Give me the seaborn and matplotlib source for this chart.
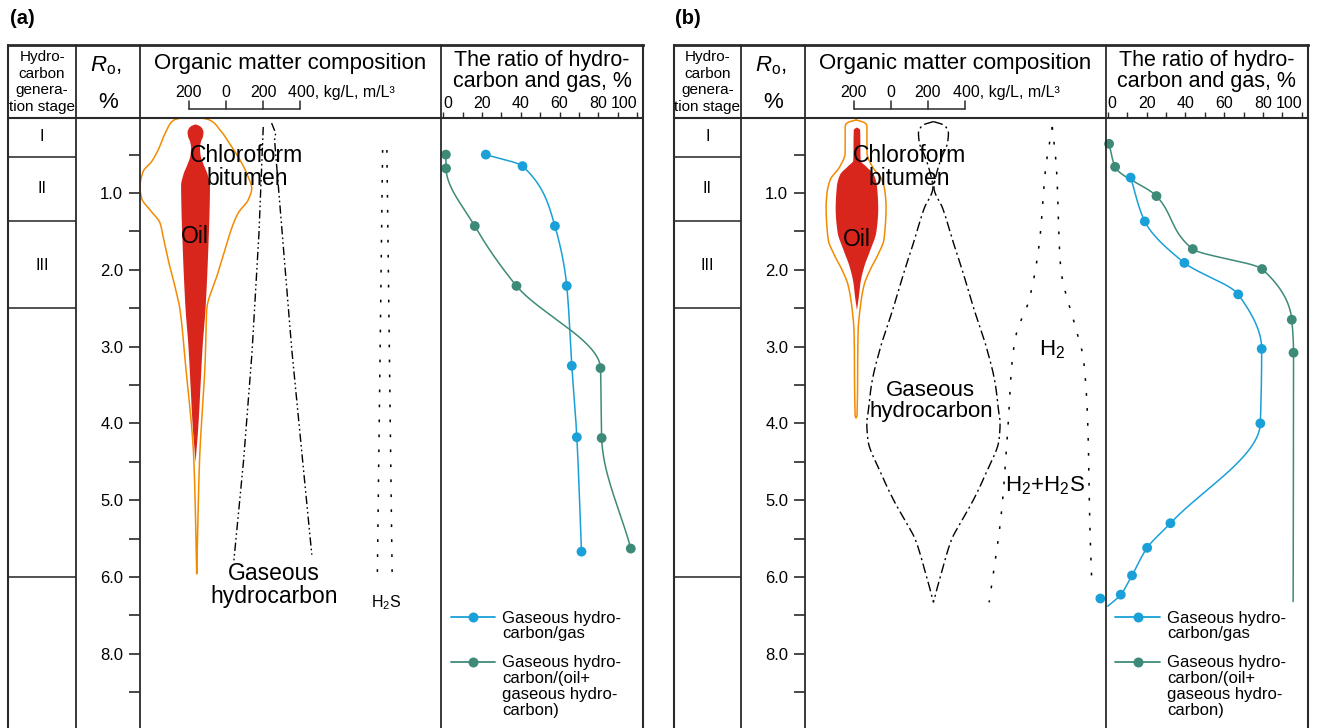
import numpy as np
import pandas as pd
import matplotlib
matplotlib.use("Agg")
import matplotlib.pyplot as plt
import seaborn as sns

# ---------------- data ----------------
RO_MINOR = [0.5, 1.5, 2.5, 3.5, 4.5, 5.5, 6.5, 7.5]
RO_LABEL_POS = [1, 2, 3, 4, 5, 6, 7]
RO_LABELS = ["1.0", "2.0", "3.0", "4.0", "5.0", "6.0", "8.0"]
STAGE_BOUNDS = [0.53, 1.36, 2.5, 6.0]
STAGE_NAMES = ["I", "II", "III"]
STAGE_LABEL_RO = [0.27, 0.94, 1.95]
RATIO_LABEL_TICKS = [0, 20, 40, 60, 80, 100]
RATIO_LABELS = ["0", "20", "40", "60", "80", "100"]
RATIO_MINOR = [10, 30, 50, 70, 90]
SCALE_TICKS = [-200, 0, 200, 400]
SCALE_LABELS = ["200", "0", "200", "400, kg/L, m/L³"]

# panel (a) composition shapes (x in kg/L units, y in Ro %)
A_OIL_CENTER = -167
A_OIL_RO = [0.10, 0.12, 0.15, 0.20, 0.26, 0.32, 0.40, 0.50, 0.62, 0.75, 0.90, 1.20, 1.65, 2.50, 3.00, 3.50, 4.00, 4.50]
A_OIL_HW = [0, 22, 35, 43, 40, 30, 24, 27, 43, 65, 78, 76, 70, 54, 38, 27, 16, 0]
A_BIT_LEFT_RO = [0.027, 0.045, 0.18, 0.44, 0.59, 0.72, 0.92, 1.07, 1.22, 1.39, 1.57, 1.87, 2.22, 2.52, 3.17, 4.50, 5.96]
A_BIT_LEFT_U = [-250, -278, -320, -366, -401, -447, -464, -455, -410, -356, -339, -312, -275, -248, -221, -173, -158]
A_BIT_RIGHT_RO = [0.027, 0.045, 0.18, 0.40, 0.61, 0.79, 0.94, 1.09, 1.26, 1.52, 1.74, 2.09, 2.52, 3.17, 4.50, 5.96]
A_BIT_RIGHT_U = [-125, -92, -32, 31, 85, 120, 139, 120, 66, 22, -5, -50, -104, -112, -143, -158]
A_GAS_L_RO = [0.14, 1.52, 3.09, 4.48, 5.80]
A_GAS_L_U = [201, 178, 140, 95, 42]
A_GAS_R_RO = [0.09, 0.22, 0.31, 3.04, 5.71]
A_GAS_R_U = [246, 268, 262, 355, 463]
A_H2S_L_RO = [0.44, 6.08]
A_H2S_L_U = [845, 816]
A_H2S_R_RO = [0.44, 6.08]
A_H2S_R_U = [868, 897]

# panel (a) ratios (%)
A_GAS_RATIO_PCT = [22.0, 40.9, 57.6, 63.7, 66.3, 68.9, 71.3]
A_GAS_RATIO_RO = [0.50, 0.65, 1.43, 2.21, 3.25, 4.18, 5.67]
A_MIX_RATIO_PCT = [1.4, 1.5, 16.3, 37.8, 81.1, 81.7, 96.7]
A_MIX_RATIO_RO = [0.50, 0.68, 1.43, 2.21, 3.28, 4.19, 5.63]

# panel (b) composition shapes
B_OIL_CENTER = -186
B_OIL_RO = [0.14, 0.17, 0.57, 0.65, 0.75, 0.90, 1.20, 1.50, 1.74, 1.95, 2.15, 2.35, 2.52]
B_OIL_HW = [0, 17, 20, 50, 90, 108, 115, 105, 72, 40, 20, 10, 0]
B_BIT_CENTER = -188
B_BIT_RO = [0.05, 0.07, 0.10, 0.14, 0.48, 0.65, 0.83, 1.00, 1.18, 1.60, 1.80, 2.00, 2.20, 2.50, 2.80, 3.90, 3.93]
B_BIT_HW = [0, 32, 54, 59, 59, 86, 140, 157, 162, 151, 119, 76, 43, 22, 11, 5, 0]
B_GAS_CENTER = 230
B_GAS_RO = [0.07, 0.12, 0.22, 0.35, 0.50, 0.70, 0.93, 1.20, 1.65, 2.00, 2.52, 3.00, 3.50, 3.82, 4.00, 4.20, 4.64, 5.00, 5.30, 5.50, 5.85, 6.10, 6.33]
B_GAS_HW = [0, 60, 81, 76, 50, 22, 3, 50, 108, 155, 220, 285, 335, 351, 360, 355, 285, 215, 145, 100, 54, 25, 0]
B_H2_L_RO = [0.14, 0.66, 1.61, 2.39, 2.82, 3.17, 4.03, 5.12, 6.33]
B_H2_L_U = [872, 837, 804, 747, 679, 656, 633, 599, 531]
B_H2_R_RO = [0.14, 0.66, 1.96, 2.74, 3.17, 4.03, 5.33, 6.11]
B_H2_R_U = [872, 894, 917, 996, 1041, 1064, 1075, 1086]

# panel (b) ratios (%)
B_GAS_RATIO_PCT = [11.8, 19.1, 39.5, 67.2, 79.3, 78.6, 32.3, 20.3, 12.5, 6.7, -3.8]
B_GAS_RATIO_RO = [0.80, 1.37, 1.91, 2.32, 3.03, 4.00, 5.30, 5.62, 5.98, 6.23, 6.28]
B_GAS_RATIO_TAIL = (0.0, 6.38)
B_MIX_RATIO_PCT = [0.7, 3.8, 25.1, 43.8, 79.5, 94.8, 95.7]
B_MIX_RATIO_RO = [0.36, 0.66, 1.04, 1.73, 1.99, 2.65, 3.08]
B_MIX_RATIO_TAIL = (95.5, 6.32)

LEGEND_LABELS = ["Gaseous hydro-\ncarbon/gas",
                 "Gaseous hydro-\ncarbon/(oil+\ngaseous hydro-\ncarbon)"]

# ---------------- style ----------------
sns.set_theme(style="white")
plt.rcParams["font.family"] = ["Liberation Sans", "DejaVu Sans"]
plt.rcParams.update({
    "mathtext.fontset": "custom",
    "mathtext.rm": "Liberation Sans",
    "mathtext.it": "Liberation Sans:italic",
    "mathtext.bf": "Liberation Sans:bold",
    "text.color": "black", "xtick.color": "black", "ytick.color": "black",
    "axes.labelcolor": "black",
})

RED = "#d8261d"
ORANGE = "#f28b00"
BLUE = "#1aa0d8"
GREEN = "#3e8a79"
FRAME = "#2a2a2a"

W, H = 1318, 728
TOP, HB, BOT = 45.0, 118.3, 731.0
YLIM = ((BOT - 116.2) / 76.8, (HB - 116.2) / 76.8)
XLIM_COMP = (-465, 1160)
XLIM_RATIO = (-1.1, 103)

fig = plt.figure(figsize=(W / 100, H / 100), dpi=100)
fig.patch.set_facecolor("white")


def add_ax(x0, y0, x1, y1, **kw):
    return fig.add_axes([x0 / W, 1 - y1 / H, (x1 - x0) / W, (y1 - y0) / H], **kw)


def pchip(xk, yk, xq):
    xk = np.asarray(xk, float)
    yk = np.asarray(yk, float)
    xq = np.asarray(xq, float)
    h = np.diff(xk)
    d = np.diff(yk) / h
    n = len(xk)
    m = np.zeros(n)
    if n == 2:
        m[:] = d[0]
    else:
        for k in range(1, n - 1):
            if d[k - 1] * d[k] > 0:
                w1 = 2 * h[k] + h[k - 1]
                w2 = h[k] + 2 * h[k - 1]
                m[k] = (w1 + w2) / (w1 / d[k - 1] + w2 / d[k])
        m[0] = d[0]
        m[-1] = d[-1]
    i = np.clip(np.searchsorted(xk, xq, side="right") - 1, 0, n - 2)
    t = (xq - xk[i]) / h[i]
    h00 = 2 * t**3 - 3 * t**2 + 1
    h10 = t**3 - 2 * t**2 + t
    h01 = -2 * t**3 + 3 * t**2
    h11 = t**3 - t**2
    return h00 * yk[i] + h10 * h[i] * m[i] + h01 * yk[i + 1] + h11 * h[i] * m[i + 1]


def dense(ro, vals, n=400):
    r = np.linspace(ro[0], ro[-1], n)
    return r, pchip(ro, vals, r)


ov = fig.add_axes([0, 0, 1, 1], zorder=20)
ov.set_xlim(0, W)
ov.set_ylim(H, 0)
ov.axis("off")
ov.patch.set_alpha(0)


def frame_and_header(g, tag):
    L, S, R0, C, R = g["left"], g["stage_r"], g["ro_r"], g["comp_r"], g["right"]
    dx = L - 8.4
    ov.plot([L, R], [TOP, TOP], color=FRAME, lw=2.0, solid_capstyle="projecting")
    ov.plot([L, R], [HB, HB], color=FRAME, lw=1.5)
    for x in (L, S, R0, C, R):
        ov.plot([x, x], [TOP, BOT], color=FRAME, lw=1.5 if x in (L, R) else 1.3)
    ov.text(10 + dx, 18, tag, ha="left", va="center", fontsize=14.5, fontweight="bold")
    ov.text((L + S) / 2, 82, "Hydro-\ncarbon\ngenera-\ntion stage", ha="center",
            va="center", fontsize=11, linespacing=1.22)
    ov.text((S + R0) / 2 - 2, 66, r"$\mathit{R}_{\mathrm{o}}$,", ha="center", va="center", fontsize=16)
    ov.text((S + R0) / 2 + 0.5, 102, "%", ha="center", va="center", fontsize=16)
    ov.text((R0 + C) / 2, 64, "Organic matter composition", ha="center", va="center", fontsize=16)
    ov.text((C + R) / 2, 71, "The ratio of hydro-\ncarbon and gas, %", ha="center",
            va="center", fontsize=15.5, linespacing=1.0)

    # scale bar in the header of the composition column
    hdr = add_ax(R0, TOP, C, HB)
    hdr.set_xlim(*XLIM_COMP)
    hdr.set_ylim(HB, TOP)
    hdr.axis("off")
    hdr.patch.set_alpha(0)
    hdr.plot([SCALE_TICKS[0], SCALE_TICKS[-1]], [108.7, 108.7], color=FRAME, lw=1.1)
    for t, lab in zip(SCALE_TICKS, SCALE_LABELS):
        hdr.plot([t, t], [101.5, 108.7], color=FRAME, lw=1.1)
        if lab.startswith("400"):
            hdr.text(t - 67, 92.5, lab, ha="left", va="center", fontsize=11.5)
        else:
            hdr.text(t, 92.5, lab, ha="center", va="center", fontsize=11.5)

    # legend (in the ratio column)
    handles = [(BLUE, 617.3), (GREEN, 662.3)]
    for (col, y), lab in zip(handles, LEGEND_LABELS):
        ov.plot([C + 9.7, C + 54], [y, y], color=col, lw=1.3)
        ov.plot([C + 32], [y], "o", color=col, ms=7.2, mec="none")
        ov.text(C + 61.5, y - 6.8, lab, ha="left", va="top", fontsize=12, linespacing=1.08)


def make_axes(g):
    ax_st = add_ax(g["left"], HB, g["stage_r"], BOT)
    ax_st.set_xlim(0, 1)
    ax_st.set_ylim(*YLIM)
    ax_st.axis("off")
    for b in STAGE_BOUNDS:
        ax_st.axhline(b, color="#444444", lw=1.3)
    for name, r in zip(STAGE_NAMES, STAGE_LABEL_RO):
        ax_st.text(0.5, r, name, ha="center", va="center", fontsize=11.5)

    ax_c = add_ax(g["ro_r"], HB, g["comp_r"], BOT)
    ax_c.set_xlim(*XLIM_COMP)
    ax_c.set_ylim(*YLIM)
    for s in ax_c.spines.values():
        s.set_visible(False)
    ax_c.patch.set_alpha(0)
    ax_c.set_xticks([])
    ax_c.set_yticks(RO_LABEL_POS, RO_LABELS)
    ax_c.set_yticks(RO_MINOR, minor=True)
    ax_c.tick_params(axis="y", which="both", direction="out", length=8, width=1.2,
                     color=FRAME, left=True, right=False, labelsize=12, pad=4)

    ax_r = add_ax(g["comp_r"], HB, g["right"], BOT)
    ax_r.set_xlim(*XLIM_RATIO)
    ax_r.set_ylim(*YLIM)
    for s in ax_r.spines.values():
        s.set_visible(False)
    ax_r.patch.set_alpha(0)
    ax_r.xaxis.tick_top()
    ax_r.set_xticks(RATIO_LABEL_TICKS, RATIO_LABELS)
    ax_r.set_xticks(RATIO_MINOR, minor=True)
    ax_r.set_yticks([])
    ax_r.tick_params(axis="x", which="both", direction="out", length=4, width=1.0,
                     color=FRAME, top=True, bottom=False, labeltop=True,
                     labelbottom=False, labelsize=11.5, pad=1.5)
    tl = ax_r.get_xticklabels()
    tl[0].set_ha("left")
    tl[-1].set_ha("right")
    return ax_c, ax_r


def ratio_curve(ax, pct, ro, color, tail=None, line_n=None):
    lp = list(pct[:line_n] if line_n else pct)
    lr = list(ro[:line_n] if line_n else ro)
    if tail is not None:
        lp.append(tail[0])
        lr.append(tail[1])
    r = np.linspace(lr[0], lr[-1], 400)
    x = pchip(lr, lp, r)
    sns.lineplot(x=x, y=r, sort=False, estimator=None, color=color, lw=1.1, ax=ax)
    sc = sns.scatterplot(x=pct, y=ro, color=color, s=50, edgecolor="none", ax=ax, zorder=4)
    for coll in sc.collections:
        coll.set_clip_on(False)


GAS_DASH_A = (6, 2.2, 1.2, 2.2, 1.2, 2.2)
GAS_DASH_B = (7, 2.6, 1.5, 2.6)
DOTS = (1.8, 8.0)

# ---------------- panel (a) ----------------
GA = dict(left=8.4, stage_r=75.8, ro_r=139.8, comp_r=441.0, right=643.0)
frame_and_header(GA, "(a)")
axc, axr = make_axes(GA)

r, hw = dense(A_OIL_RO, A_OIL_HW)
axc.fill_betweenx(r, A_OIL_CENTER - hw, A_OIL_CENTER + hw, color=RED, lw=0, zorder=2)
rl, ul = dense(A_BIT_LEFT_RO, A_BIT_LEFT_U)
rr, ur = dense(A_BIT_RIGHT_RO, A_BIT_RIGHT_U)
axc.plot(np.concatenate([ul, ur[::-1], ul[:1]]), np.concatenate([rl, rr[::-1], rl[:1]]),
         color=ORANGE, lw=1.1, zorder=3)
axc.plot(A_GAS_L_U, A_GAS_L_RO, color="black", lw=1.0, dashes=GAS_DASH_A)
axc.plot(A_GAS_R_U, A_GAS_R_RO, color="black", lw=1.0, dashes=GAS_DASH_A)
axc.plot(A_H2S_L_U, A_H2S_L_RO, color="black", lw=1.1, dashes=DOTS)
axc.plot(A_H2S_R_U, A_H2S_R_RO, color="black", lw=1.1, dashes=DOTS)
axc.text(113, 0.66, "Chloroform\nbitumen", ha="center", va="center", fontsize=16.5,
         linespacing=1.0, zorder=5)
axc.text(-167, 1.57, "Oil", ha="center", va="center", fontsize=16.5, zorder=5)
axc.text(259, 6.11, "Gaseous\nhydrocarbon", ha="center", va="center", fontsize=16.5,
         linespacing=1.0)
axc.text(864, 6.33, r"H$_2$S", ha="center", va="center", fontsize=11.5)

ratio_curve(axr, A_GAS_RATIO_PCT, A_GAS_RATIO_RO, BLUE)
ratio_curve(axr, A_MIX_RATIO_PCT, A_MIX_RATIO_RO, GREEN)

# ---------------- panel (b) ----------------
GB = dict(left=673.8, stage_r=741.0, ro_r=804.8, comp_r=1105.6, right=1307.7)
frame_and_header(GB, "(b)")
bxc, bxr = make_axes(GB)

r, hw = dense(B_OIL_RO, B_OIL_HW)
bxc.fill_betweenx(r, B_OIL_CENTER - hw, B_OIL_CENTER + hw, color=RED, lw=0, zorder=2)
r, hw = dense(B_BIT_RO, B_BIT_HW)
bxc.plot(np.concatenate([B_BIT_CENTER - hw, (B_BIT_CENTER + hw)[::-1]]),
         np.concatenate([r, r[::-1]]), color=ORANGE, lw=1.1, zorder=3)
r, hw = dense(B_GAS_RO, B_GAS_HW)
bxc.plot(B_GAS_CENTER - hw, r, color="black", lw=1.0, dashes=GAS_DASH_B)
bxc.plot(B_GAS_CENTER + hw, r, color="black", lw=1.0, dashes=GAS_DASH_B)
rl, ul = dense(B_H2_L_RO, B_H2_L_U)
rr, ur = dense(B_H2_R_RO, B_H2_R_U)
bxc.plot(ul, rl, color="black", lw=1.1, dashes=DOTS)
bxc.plot(ur, rr, color="black", lw=1.1, dashes=DOTS)
bxc.text(100, 0.66, "Chloroform\nbitumen", ha="center", va="center", fontsize=16.5,
         linespacing=1.0, zorder=5)
bxc.text(-186, 1.61, "Oil", ha="center", va="center", fontsize=16.5, zorder=5)
bxc.text(216, 3.71, "Gaseous\nhydrocarbon", ha="center", va="center", fontsize=16,
         linespacing=1.0)
bxc.text(869, 3.04, r"H$_2$", ha="center", va="center", fontsize=16)
bxc.text(834, 4.81, r"H$_2$+H$_2$S", ha="center", va="center", fontsize=16)

ratio_curve(bxr, B_GAS_RATIO_PCT, B_GAS_RATIO_RO, BLUE, tail=B_GAS_RATIO_TAIL,
            line_n=len(B_GAS_RATIO_PCT) - 1)
ratio_curve(bxr, B_MIX_RATIO_PCT, B_MIX_RATIO_RO, GREEN, tail=B_MIX_RATIO_TAIL)

fig.savefig("out.png", dpi=100, facecolor="white")
